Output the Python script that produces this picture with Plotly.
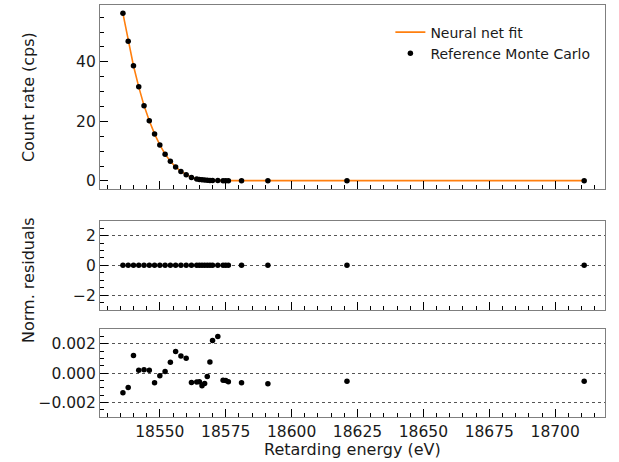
import plotly.graph_objects as go

# Retarding energies of the scan (eV)
energy = [18536, 18538, 18540, 18542, 18544, 18546, 18548, 18550, 18552, 18554,
          18556, 18558, 18560, 18562, 18564, 18565, 18566, 18567, 18568, 18569,
          18570, 18572, 18574, 18575, 18576, 18581, 18591, 18621, 18711]

# Monte Carlo count rate (cps)
count_rate = [56.3, 46.9, 38.7, 31.6, 25.3, 20.2, 15.8, 12.1, 9.0, 6.6,
              4.7, 3.2, 2.1, 1.2, 0.67, 0.5, 0.4, 0.3, 0.22, 0.18,
              0.15, 0.12, 0.1, 0.1, 0.1, 0.1, 0.1, 0.1, 0.1]

# Normalised residuals (data - fit) / sigma
norm_resid = [-0.00134, -0.00098, 0.0012, 0.0002, 0.00023, 0.0002, -0.00066, -0.00018,
              0.00011, 0.00075, 0.00148, 0.00118, 0.00102, -0.00064, -0.00061, -0.00059,
              -0.00086, -0.0007, -0.00023, 0.00077, 0.00223, 0.0025, -0.00048, -0.0005,
              -0.00059, -0.00066, -0.00073, -0.00055, -0.00055]

# Neural-network prediction evaluated on the same grid
nn_fit = [c - r for c, r in zip(count_rate, norm_resid)]

x_ticks = [18550, 18575, 18600, 18625, 18650, 18675, 18700]
x_labels = [str(v) for v in x_ticks]
top_ticks = [0, 20, 40]
mid_ticks = [-2, 0, 2]
mid_labels = ["\u22122", "0", "2"]
low_ticks = [-0.002, 0.0, 0.002]
low_labels = ["\u22120.002", "0.000", "0.002"]

FONT = "DejaVu Sans"
TXT = "#1a1a1a"
SPINE = "#7f7f7f"
ORANGE = "#ff7f0e"
TICK_SIZE = 15.5

fig = go.Figure()

fig.add_trace(go.Scatter(x=energy, y=nn_fit, mode="lines", name="Neural net fit",
                         line=dict(color=ORANGE, width=1.6), xaxis="x", yaxis="y"))
fig.add_trace(go.Scatter(x=energy, y=count_rate, mode="markers", name="Reference Monte Carlo",
                         marker=dict(color="black", size=5.5), xaxis="x", yaxis="y"))
fig.add_trace(go.Scatter(x=energy, y=norm_resid, mode="markers", showlegend=False,
                         marker=dict(color="black", size=5.5), xaxis="x2", yaxis="y2"))
fig.add_trace(go.Scatter(x=energy, y=norm_resid, mode="markers", showlegend=False,
                         marker=dict(color="black", size=5.5), xaxis="x3", yaxis="y3"))

xrange = [18527.3, 18718.9]

def xaxis(labels, anchor):
    return dict(range=xrange, tickvals=x_ticks, ticktext=x_labels, showticklabels=labels,
                ticks="inside", ticklen=8, tickcolor="black", tickwidth=1,
                minor=dict(dtick=5, tick0=18550, ticks="inside", ticklen=4,
                           tickcolor="black", tickwidth=1),
                showline=True, mirror=True, linecolor=SPINE, linewidth=1.2,
                showgrid=False, zeroline=False, anchor=anchor, domain=[0, 1],
                tickfont=dict(family=FONT, size=TICK_SIZE, color=TXT))

def yaxis(rng, vals, text, dom, minor_dt, grid):
    return dict(range=rng, tickvals=vals, ticktext=text, ticks="inside", ticklen=8,
                tickcolor="black", tickwidth=1,
                minor=dict(dtick=minor_dt, ticks="inside", ticklen=4, tickcolor="black",
                           tickwidth=1, showgrid=False),
                showline=True, mirror=True, linecolor=SPINE, linewidth=1.2,
                showgrid=grid, gridcolor="#555", griddash="dot", gridwidth=1,
                zeroline=False, domain=dom,
                tickfont=dict(family=FONT, size=TICK_SIZE, color=TXT))

fig.update_layout(
    width=619, height=462,
    margin=dict(l=100, r=14, t=5, b=45),
    paper_bgcolor="white", plot_bgcolor="white",
    font=dict(family=FONT, color=TXT),
    xaxis=xaxis(False, "y"),
    xaxis2=xaxis(False, "y2"),
    xaxis3=xaxis(True, "y3"),
    yaxis=yaxis([-2.8, 59.1], top_ticks, [str(v) for v in top_ticks], [0.5527, 1.0], 5, False),
    yaxis2=yaxis([-3, 3], mid_ticks, mid_labels, [0.2597, 0.4765], 0.5, True),
    yaxis3=yaxis([-0.003, 0.003], low_ticks, low_labels, [0.0, 0.2129], 0.0005, True),
    legend=dict(x=0.575, y=0.972, xanchor="left", yanchor="top", bgcolor="rgba(0,0,0,0)",
                font=dict(family=FONT, size=14, color=TXT), itemwidth=30,
                tracegroupgap=2),
    showlegend=True,
)
fig.update_layout(xaxis2_matches="x", xaxis3_matches="x")

fig.add_annotation(text="Count rate (cps)", xref="paper", yref="paper",
                   x=-0.1426, y=0.7764, textangle=-90, showarrow=False,
                   xanchor="center", yanchor="middle",
                   font=dict(family=FONT, size=16, color=TXT))
fig.add_annotation(text="Norm. residuals", xref="paper", yref="paper",
                   x=-0.1426, y=0.3325, textangle=-90, showarrow=False,
                   xanchor="center", yanchor="middle",
                   font=dict(family=FONT, size=16, color=TXT))
fig.add_annotation(text="Retarding energy (eV)", xref="paper", yref="paper",
                   x=0.5, y=-0.0777, showarrow=False, xanchor="center", yanchor="middle",
                   font=dict(family=FONT, size=16, color=TXT))

fig.write_html("out.html")
